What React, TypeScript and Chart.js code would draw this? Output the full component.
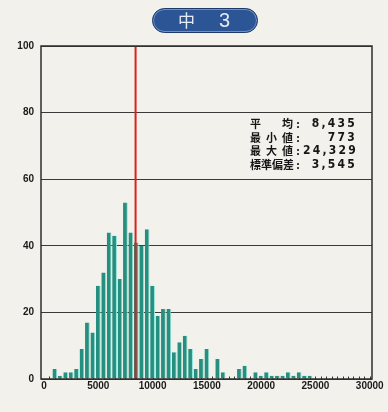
import React, { useEffect, useRef } from "react";
import { Chart, registerables } from "chart.js";

Chart.register(...registerables);

// Histogram bins (upper bound of each 500-wide bin) and counts
const BIN_UPPER = [
  1000, 1500, 2000, 2500, 3000, 3500, 4000, 4500, 5000, 5500,
  6000, 6500, 7000, 7500, 8000, 8500, 9000, 9500, 10000, 10500,
  11000, 11500, 12000, 12500, 13000, 13500, 14000, 14500, 15000, 15500,
  16000, 16500, 17000, 17500, 18000, 18500, 19000, 19500, 20000, 20500,
  21000, 21500, 22000, 22500, 23000, 23500, 24000, 24500,
];
const COUNTS = [
  3, 1, 2, 2, 3, 9, 17, 14, 28, 32,
  44, 43, 30, 53, 44, 41, 40, 45, 28, 19,
  21, 21, 8, 11, 13, 9, 3, 6, 9, 0,
  6, 2, 0, 0, 3, 4, 0, 2, 1, 2,
  1, 1, 1, 2, 1, 2, 1, 1,
];
const MEAN = 8435;
const X_TICKS = [0, 5000, 10000, 15000, 20000, 25000, 30000];
const Y_TICKS = [0, 20, 40, 60, 80, 100];
const MINOR_STEP = 500;
const X_MIN = -276;
const X_MAX = 30210;

const TITLE_PARTS = ["中", "3"];
const STAT_LABELS = [["平", "均"], ["最", "小", "値"], ["最", "大", "値"], ["標", "準", "偏", "差"]];
const STAT_VALUES = ["8,435", "773", "24,329", "3,545"];

const BG = "#f2f1eb";

const framePlugin = {
  id: "frameAndMinorTicks",
  beforeDatasetsDraw(chart: any) {
    const { ctx, chartArea, scales } = chart;
    const x = scales.x;
    ctx.save();
    ctx.strokeStyle = "#333";
    ctx.lineWidth = 1;
    for (let v = MINOR_STEP; v <= X_TICKS[X_TICKS.length - 1]; v += MINOR_STEP) {
      const px = Math.round(x.getPixelForValue(v)) + 0.5;
      ctx.beginPath();
      ctx.moveTo(px, chartArea.bottom);
      ctx.lineTo(px, chartArea.bottom - 2.5);
      ctx.stroke();
    }
    ctx.restore();
  },
  afterDraw(chart: any) {
    const { ctx, chartArea } = chart;
    ctx.save();
    ctx.strokeStyle = "#2e2e2e";
    ctx.lineWidth = 1.5;
    ctx.strokeRect(chartArea.left, chartArea.top, chartArea.right - chartArea.left, chartArea.bottom - chartArea.top);
    ctx.restore();
  },
};

export default function App() {
  const canvasRef = useRef<HTMLCanvasElement | null>(null);

  useEffect(() => {
    const canvas = canvasRef.current;
    if (!canvas) return;
    const chart = new Chart(canvas, {
      type: "bar",
      data: {
        datasets: [
          {
            type: "line",
            data: [
              { x: MEAN, y: Y_TICKS[0] },
              { x: MEAN, y: Y_TICKS[Y_TICKS.length - 1] },
            ],
            borderColor: "#d8221a",
            borderWidth: 2,
            pointRadius: 0,
            order: 0,
          } as any,
          {
            type: "bar",
            data: BIN_UPPER.map((b, i) => ({ x: b, y: COUNTS[i] })),
            backgroundColor: "#25907f",
            borderColor: "#8fe4da",
            borderWidth: { left: 0, right: 1, top: 0, bottom: 0 },
            borderSkipped: false,
            barPercentage: 0.88,
            categoryPercentage: 1,
            order: 1,
          } as any,
        ],
      },
      options: {
        animation: false,
        responsive: false,
        devicePixelRatio: 1,
        layout: { padding: { left: 8, right: 16, top: 46, bottom: 0 } },
        plugins: { legend: { display: false }, tooltip: { enabled: false } },
        scales: {
          x: {
            type: "linear",
            offset: false,
            min: X_MIN,
            max: X_MAX,
            afterBuildTicks: (s: any) => {
              s.ticks = X_TICKS.map((v) => ({ value: v }));
            },
            afterFit: (s: any) => {
              s.height = 33;
            },
            grid: { display: false, drawTicks: false, offset: false },
            border: { display: false },
            ticks: {
              autoSkip: false,
              maxRotation: 0,
              padding: 1,
              color: "#1a1a1a",
              font: { family: "'Liberation Sans', Arial, sans-serif", size: 10, weight: "bold" },
              callback: (v: any) => String(v),
            },
          },
          y: {
            min: Y_TICKS[0],
            max: Y_TICKS[Y_TICKS.length - 1],
            afterBuildTicks: (s: any) => {
              s.ticks = Y_TICKS.map((v) => ({ value: v }));
            },
            afterFit: (s: any) => {
              s.width = 33;
            },
            grid: { color: "#3a3a3a", lineWidth: 1, drawTicks: false },
            border: { display: false },
            ticks: {
              padding: 7,
              color: "#1a1a1a",
              font: { family: "'Liberation Sans', Arial, sans-serif", size: 10, weight: "bold" },
            },
          },
        },
      },
      plugins: [framePlugin],
    });
    return () => chart.destroy();
  }, []);

  return (
    <div
      style={{
        position: "fixed",
        left: 0,
        top: 0,
        width: 388,
        height: 412,
        background: BG,
        overflow: "hidden",
      }}
    >
      <canvas ref={canvasRef} width={388} height={412} style={{ position: "absolute", left: 0, top: 0 }} />
      <div
        style={{
          position: "absolute",
          left: 152,
          top: 8,
          width: 106,
          height: 25,
          boxSizing: "border-box",
          borderRadius: 13,
          background: "#2c5596",
          border: "1.5px solid #1d3a68",
          boxShadow: "inset 0 0 0 1px #6f92c4",
        }}
      >
        <span
          style={{
            position: "absolute",
            left: 25,
            top: 1,
            fontFamily: "'Noto Sans CJK JP', sans-serif",
            fontSize: 17,
            lineHeight: "20px",
            color: "#e4ebf5",
          }}
        >
          {TITLE_PARTS[0]}
        </span>
        <span
          style={{
            position: "absolute",
            left: 66,
            top: 0,
            fontFamily: "'Liberation Sans', Arial, sans-serif",
            fontSize: 20,
            lineHeight: "22px",
            color: "#e4ebf5",
          }}
        >
          {TITLE_PARTS[1]}
        </span>
      </div>
      <div style={{ position: "absolute", left: 250, top: 116.5, width: 108 }}>
        {STAT_LABELS.map((chars, i) => (
          <div key={i} style={{ display: "flex", alignItems: "center", height: 13.7, color: "#161616" }}>
            <div
              style={{
                width: 43,
                display: "flex",
                justifyContent: "space-between",
                fontFamily: "'Noto Sans CJK JP', sans-serif",
                fontWeight: 700,
                fontSize: 11,
                lineHeight: "13px",
              }}
            >
              {chars.map((c, j) => (
                <span key={j}>{c}</span>
              ))}
            </div>
            <div
              style={{
                width: 10,
                textAlign: "center",
                fontFamily: "'Noto Sans CJK JP', sans-serif",
                fontWeight: 700,
                fontSize: 11,
                lineHeight: "13px",
              }}
            >
              :
            </div>
            <div
              style={{
                width: 54,
                textAlign: "right",
                fontFamily: "'DejaVu Sans Condensed', 'DejaVu Sans', sans-serif",
                fontWeight: 700,
                fontSize: 12,
                lineHeight: "13px",
                letterSpacing: 2.2,
                marginRight: -2.2,
              }}
            >
              {STAT_VALUES[i]}
            </div>
          </div>
        ))}
      </div>
    </div>
  );
}
